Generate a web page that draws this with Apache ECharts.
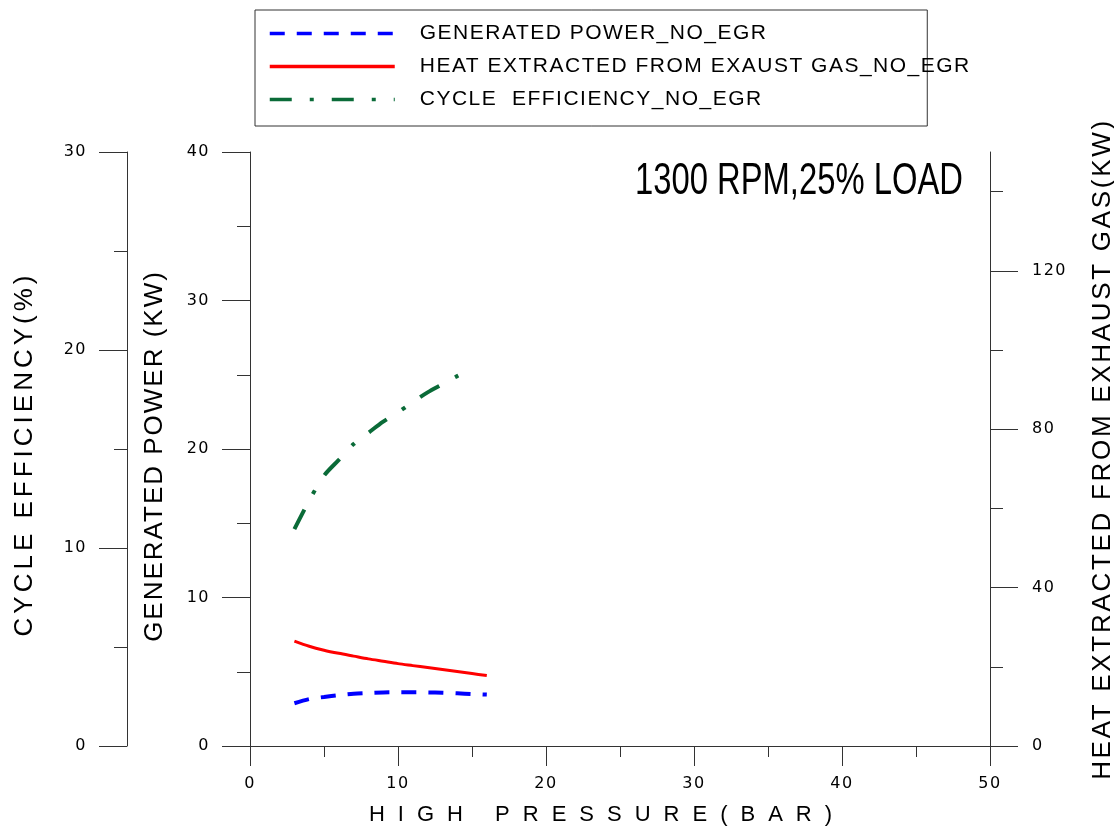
<!DOCTYPE html>
<html>
<head>
<meta charset="utf-8">
<script src="https://cdn.jsdelivr.net/npm/echarts@6/dist/echarts.min.js"></script>
<style>
html, body { margin: 0; padding: 0; background: #ffffff; }
#chart { width: 1114px; height: 832px; }
</style>
</head>
<body>
<div id="chart"></div>
<script>
// ---------- data ----------
const pressurePH = [3, 4, 5, 6, 7, 8, 9, 10, 11, 12, 13, 14, 15, 16];           // bar
const generatedPower = [2.88, 3.16, 3.30, 3.42, 3.52, 3.57, 3.61, 3.62, 3.62, 3.61, 3.59, 3.55, 3.50, 3.46]; // kW
const heatExtracted = [26.5, 25.2, 24.2, 23.4, 22.7, 22.0, 21.4, 20.8, 20.3, 19.8, 19.3, 18.8, 18.3, 17.8]; // kW
const pressureEff = [3, 4, 5, 6, 7, 8, 9, 10, 11, 12, 13, 14, 15];               // bar
const cycleEfficiency = [10.95, 12.4, 13.65, 14.45, 15.25, 15.82, 16.38, 16.85, 17.37, 17.86, 18.27, 18.68, 19.05]; // %

const seriesNames = ['GENERATED POWER_NO_EGR', 'HEAT EXTRACTED FROM EXAUST GAS_NO_EGR', 'CYCLE  EFFICIENCY_NO_EGR'];
const heatLabelTicks = [0, 40, 80, 120];
const heatMinorTicks = [20, 60, 100, 140];
const titleText = '1300 RPM,25% LOAD';
const xName = 'HIGH PRESSURE(BAR)';
const powerName = 'GENERATED POWER (KW)';
const effName = 'CYCLE EFFICIENCY(%)';
const heatName = 'HEAT EXTRACTED FROM EXHAUST GAS(KW)';

// ---------- letter spacing for the widely spaced texts ----------
const FONT = '"Liberation Sans", Arial, sans-serif';
const DIGIT_FONT = '"DejaVu Sans", "Liberation Sans", sans-serif';
const spacing = {};
spacing[xName] = 13;
spacing[effName] = 4;
spacing[powerName] = 2;
spacing[heatName] = 2.7;
seriesNames.forEach(n => { spacing[n] = 1.5; });
const DIGIT_SPACING = 1.5;
(function () {
  const proto = CanvasRenderingContext2D.prototype;
  const orig = proto.fillText;
  proto.fillText = function (text) {
    let ls = spacing[text];
    if (ls === undefined && /^\d+$/.test(String(text))) ls = DIGIT_SPACING;
    if (ls !== undefined && 'letterSpacing' in this) {
      const prev = this.letterSpacing;
      this.letterSpacing = ls + 'px';
      const r = orig.apply(this, arguments);
      this.letterSpacing = prev;
      return r;
    }
    return orig.apply(this, arguments);
  };
})();

const pair = (xs, ys) => xs.map((x, i) => [x, ys[i]]);

const axisColor = '#333333';
const labelStyle = { fontFamily: DIGIT_FONT, fontSize: 16, color: '#000' };
const nameStyle = { fontFamily: FONT, fontSize: 26, color: '#000' };

const chart = echarts.init(document.getElementById('chart'), null, { renderer: 'canvas' });
chart.setOption({
  animation: false,
  backgroundColor: '#ffffff',
  grid: { left: 250, right: 124, top: 152, bottom: 86, containLabel: false, outerBoundsMode: 'none' },
  graphic: [{
    type: 'text',
    x: 635, y: 182,
    scaleX: 0.745,
    style: { text: titleText, font: '44px ' + FONT, fill: '#000', align: 'left', verticalAlign: 'middle' }
  }],
  legend: {
    orient: 'vertical',
    left: 255, top: 10,
    padding: [13, 12, 16, 13],
    itemWidth: 125, itemHeight: 14, itemGap: 12,
    borderColor: '#333', borderWidth: 1,
    selectedMode: false,
    lineStyle: { width: 3.5 },
    itemStyle: { opacity: 0 },
    textStyle: { fontFamily: FONT, fontSize: 21, color: '#000', padding: [0, 0, 0, 20], width: 555 },
    data: seriesNames
  },
  xAxis: {
    type: 'value', min: 0, max: 50, interval: 10,
    name: xName, nameLocation: 'middle', nameGap: 58,
    nameTextStyle: Object.assign({}, nameStyle, { fontSize: 22, padding: [0, 26, 0, 0] }),
    axisLine: { show: true, onZero: false, lineStyle: { color: axisColor, width: 1 } },
    axisTick: { show: true, length: 20, lineStyle: { color: axisColor } },
    minorTick: { show: true, splitNumber: 2, length: 11, lineStyle: { color: axisColor } },
    axisLabel: Object.assign({ margin: 30 }, labelStyle),
    splitLine: { show: false }
  },
  yAxis: [
    { // generated power
      type: 'value', position: 'left', offset: 0, min: 0, max: 40, interval: 10,
      name: powerName, nameLocation: 'middle', nameRotate: 90, nameGap: 82,
      nameTextStyle: Object.assign({}, nameStyle, { padding: [0, 14, 0, 0] }),
      axisLine: { show: true, onZero: false, lineStyle: { color: axisColor, width: 1 } },
      axisTick: { show: true, length: 28, lineStyle: { color: axisColor } },
      minorTick: { show: true, splitNumber: 2, length: 13, lineStyle: { color: axisColor } },
      axisLabel: Object.assign({ margin: 40 }, labelStyle),
      splitLine: { show: false }
    },
    { // cycle efficiency
      type: 'value', position: 'left', offset: 123, min: 0, max: 30, interval: 10,
      name: effName, nameLocation: 'middle', nameRotate: 90, nameGap: 89,
      nameTextStyle: Object.assign({}, nameStyle, { padding: [0, 10, 0, 0] }),
      axisLine: { show: true, onZero: false, lineStyle: { color: axisColor, width: 1 } },
      axisTick: { show: true, length: 28, lineStyle: { color: axisColor } },
      minorTick: { show: true, splitNumber: 2, length: 13, lineStyle: { color: axisColor } },
      axisLabel: Object.assign({ margin: 40 }, labelStyle),
      splitLine: { show: false }
    },
    { // heat extracted
      type: 'value', position: 'right', offset: 0, min: 0, max: 150,
      name: heatName, nameLocation: 'middle', nameRotate: 90, nameGap: 100,
      nameTextStyle: nameStyle,
      axisLine: { show: true, onZero: false, lineStyle: { color: axisColor, width: 1 } },
      axisTick: { show: true, length: 28, customValues: heatLabelTicks, lineStyle: { color: axisColor } },
      axisLabel: Object.assign({ margin: 42, customValues: heatLabelTicks }, labelStyle),
      splitLine: { show: false }
    },
    { // minor ticks of heat axis
      type: 'value', position: 'right', offset: 0, min: 0, max: 150,
      axisLine: { show: false, onZero: false },
      axisTick: { show: true, length: 13, customValues: heatMinorTicks, lineStyle: { color: axisColor } },
      axisLabel: { show: false },
      splitLine: { show: false }
    }
  ],
  series: [
    {
      name: seriesNames[0], type: 'line', yAxisIndex: 0, smooth: 0.3,
      symbol: 'none', showSymbol: false,
      data: pair(pressurePH, generatedPower),
      lineStyle: { color: '#0000ff', width: 4, type: [15, 12] },
      itemStyle: { color: '#0000ff' }
    },
    {
      name: seriesNames[1], type: 'line', yAxisIndex: 2, smooth: 0.3,
      symbol: 'none', showSymbol: false,
      data: pair(pressurePH, heatExtracted),
      lineStyle: { color: '#ff0000', width: 3, type: 'solid' },
      itemStyle: { color: '#ff0000' }
    },
    {
      name: seriesNames[2], type: 'line', yAxisIndex: 1, smooth: 0.3,
      symbol: 'none', showSymbol: false,
      data: pair(pressureEff, cycleEfficiency),
      lineStyle: { color: '#0a6b38', width: 4, type: [22, 18, 4, 18] },
      itemStyle: { color: '#0a6b38' }
    }
  ]
});
</script>
</body>
</html>
